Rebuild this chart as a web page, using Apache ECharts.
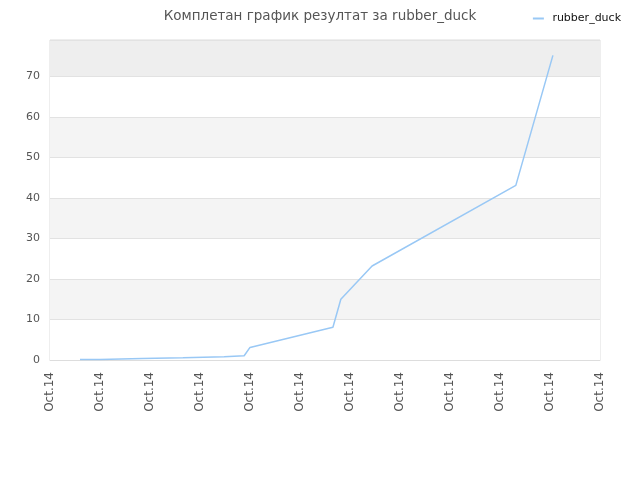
<!DOCTYPE html>
<html>
<head>
<meta charset="utf-8">
<script src="https://cdn.jsdelivr.net/npm/echarts@6/dist/echarts.min.js"></script>
<style>
  html, body { margin: 0; padding: 0; background: #fff; }
  #chart { width: 640px; height: 480px; }
</style>
</head>
<body>
<div id="chart"></div>
<script>
// Points of the score curve (UTC, one day)
const times = [
  '01:12', '02:00', '02:02', '03:41', '03:43', '05:19', '05:22',
  '06:58', '07:00', '07:46', '08:00', '11:19', '11:38', '12:53',
  '18:38', '20:07'
];
const scores = [
  0.15, 0.15, 0.35, 0.35, 0.55, 0.55, 0.8,
  0.8, 1.05, 1.05, 3.1, 8.1, 15.0, 23.2,
  43.1, 75.2
];
const seriesName = 'rubber_duck';
const titleText = 'Комплетан график резултат за rubber_duck';
const day = Date.UTC(2014, 9, 14);
const months = ['Jan', 'Feb', 'Mar', 'Apr', 'May', 'Jun', 'Jul', 'Aug', 'Sep', 'Oct', 'Nov', 'Dec'];

function toStamp(hm) {
  const [h, m] = hm.split(':').map(Number);
  return day + (h * 60 + m) * 60000;
}

function dateLabel(v) {
  const d = new Date(v);
  return months[d.getUTCMonth()] + '.' + String(d.getUTCDate()).padStart(2, '0');
}

const points = times.map((t, i) => [toStamp(t), scores[i]]);
const hour = 3600000;

const chart = echarts.init(document.getElementById('chart'), null, { renderer: 'canvas' });
chart.setOption({
  animation: false,
  title: {
    text: titleText,
    left: 'center',
    top: 4,
    padding: [5, 5, 5, 0],
    textStyle: { fontFamily: 'DejaVu Sans', fontSize: 13.5, fontWeight: 'normal', color: '#555' }
  },
  legend: {
    data: [seriesName],
    right: 14,
    top: 8,
    icon: 'rect',
    itemWidth: 11,
    itemHeight: 2,
    formatter: name => ' ' + name,
    textStyle: { fontFamily: 'DejaVu Sans', fontSize: 11, color: '#111' }
  },
  grid: {
    left: 50, right: 40, top: 40, bottom: 120,
    show: true, borderColor: '#ddd', borderWidth: 1, backgroundColor: 'transparent'
  },
  xAxis: {
    type: 'value',
    min: day,
    max: day + 22 * hour,
    interval: 2 * hour,
    axisLine: { lineStyle: { color: '#ddd' } },
    axisTick: { show: false },
    splitLine: { show: false },
    axisLabel: {
      rotate: 90,
      margin: 12,
      fontFamily: 'DejaVu Sans',
      fontSize: 12,
      color: '#555',
      formatter: dateLabel
    }
  },
  yAxis: {
    type: 'value',
    min: 0,
    max: 79,
    interval: 10,
    axisLine: { show: false },
    axisTick: { show: false },
    axisLabel: {
      showMaxLabel: false,
      margin: 10,
      fontFamily: 'DejaVu Sans',
      fontSize: 11,
      color: '#555'
    },
    splitLine: { lineStyle: { color: '#e2e2e2' } },
    splitArea: {
      show: true,
      areaStyle: {
        color: ['#ffffff', '#f4f4f4', '#ffffff', '#f4f4f4', '#ffffff', '#f4f4f4', '#ffffff', '#eeeeee']
      }
    }
  },
  series: [{
    name: seriesName,
    type: 'line',
    data: points,
    showSymbol: false,
    lineStyle: { color: '#99c8f5', width: 1.5 },
    itemStyle: { color: '#99c8f5' }
  }]
});
</script>
</body>
</html>
